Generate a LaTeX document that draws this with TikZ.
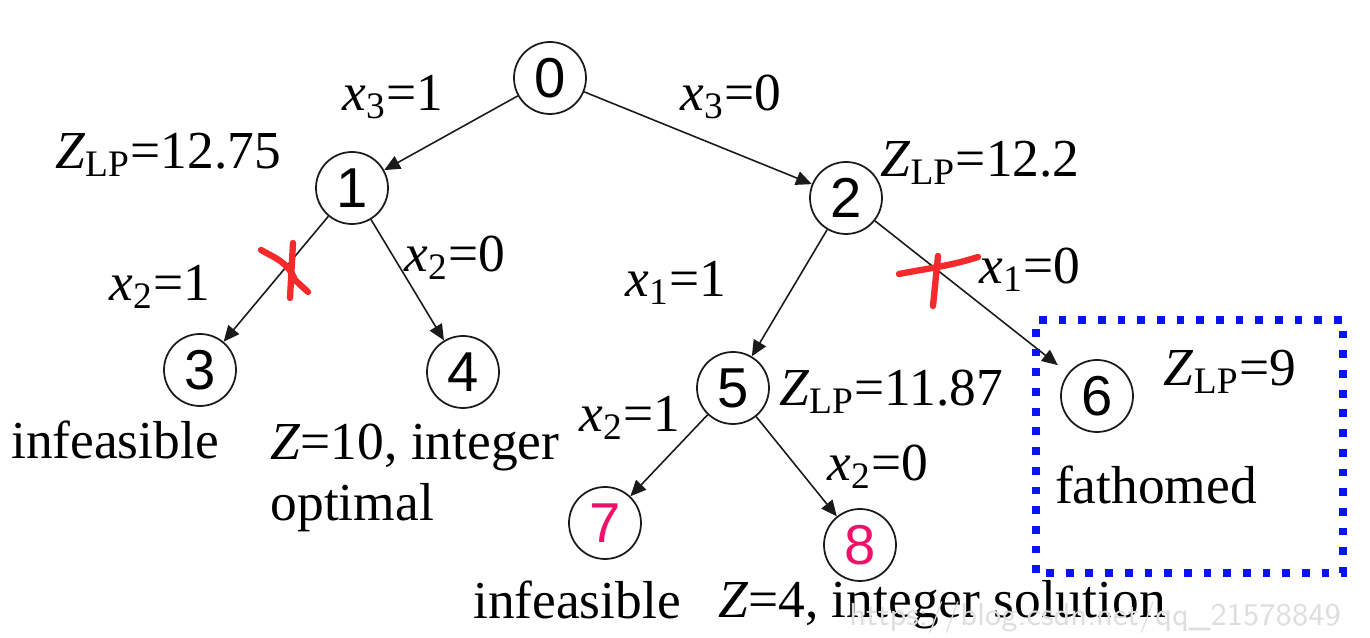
\documentclass[tikz,border=0pt]{standalone}
\usepackage{fontspec}
\setmainfont{Liberation Serif}
\newfontfamily\digitfont{Liberation Sans}
\usetikzlibrary{arrows.meta}
\definecolor{Ink}{HTML}{1A1A1A}
\definecolor{Pink}{HTML}{F0106A}
\definecolor{Cross}{HTML}{F52A2A}
\definecolor{Box}{HTML}{0A14F0}
\definecolor{Mark}{HTML}{DEDEDE}
\newcommand{\xsub}[2]{\textit{x}\textsubscript{#1}=#2}
\newcommand{\zlp}[1]{\textit{Z}\textsubscript{LP}=#1}

\begin{document}
\begin{tikzpicture}[
    bb/.style={circle,draw=Ink,line width=0.5pt,minimum size=0.72cm,inner sep=0pt,
      font=\digitfont\fontsize{16}{19}\selectfont},
    lbl/.style={font=\fontsize{15.2}{18}\selectfont,inner sep=0pt},
    edge/.style={-{Triangle[length=4.5pt,width=4pt]},Ink,line width=0.45pt},
    cut/.style={Cross,line width=1.8pt,line cap=round,line join=round}
  ]
      \useasboundingbox (0,0) rectangle (13.70,6.38);
      % branch and bound tree
      \node[bb] (n0) at (5.50,5.60) {0};
      \node[bb] (n1) at (3.52,4.50) {1};
      \node[bb] (n2) at (8.46,4.40) {2};
      \node[bb] (n3) at (2.00,2.68) {3};
      \node[bb] (n4) at (4.63,2.66) {4};
      \node[bb] (n5) at (7.33,2.50) {5};
      \node[bb] (n6) at (10.97,2.42) {6};
      \node[bb,text=Pink] (n7) at (6.05,1.15) {7};
      \node[bb,text=Pink] (n8) at (8.60,0.93) {8};
      \draw[edge] (n0) -- (n1);
      \draw[edge] (n0) -- (n2);
      \draw[edge] (n1) -- (n3);
      \draw[edge] (n1) -- (n4);
      \draw[edge] (n2) -- (n5);
      \draw[edge,shorten >=1.3mm] (n2) -- (n6);
      \draw[edge] (n5) -- (n7);
      \draw[edge] (n5) -- (n8);
      % branch labels
      \node[lbl] (b31) at (3.93,5.41) {\xsub{3}{1}};
      \node[lbl] (b30) at (7.31,5.41) {\xsub{3}{0}};
      \node[lbl] (b21) at (1.60,3.51) {\xsub{2}{1}};
      \node[lbl] (b20) at (4.55,3.80) {\xsub{2}{0}};
      \node[lbl] (b11) at (6.76,3.55) {\xsub{1}{1}};
      \node[lbl] (b10) at (10.30,3.68) {\xsub{1}{0}};
      \node[lbl] (c21) at (6.30,2.20) {\xsub{2}{1}};
      \node[lbl] (c20) at (8.78,1.71) {\xsub{2}{0}};
      % bounds and results
      \node[lbl] (z1) at (1.68,4.83) {\zlp{12.75}};
      \node[lbl] (z2) at (9.80,4.75) {\zlp{12.2}};
      \node[lbl] (z5) at (8.91,2.46) {\zlp{11.87}};
      \node[lbl] (z6) at (12.30,2.66) {\zlp{9}};
      \node[lbl] (r3) at (1.15,1.98) {infeasible};
      \node[lbl,anchor=north west,align=left,font=\fontsize{15.2}{17.4}\selectfont]
        (r4) at (2.70,2.15) {\textit{Z}=10, integer\\optimal};
      \node[lbl] (r7) at (5.77,0.38) {infeasible};
      \node[lbl] (r8) at (9.42,0.33) {\textit{Z}=4, integer solution};
      \node[lbl] (r6) at (11.56,1.53) {fathomed};
      \draw[Box,line width=2.2pt,dash pattern=on 2.2pt off 3.4pt] (10.36,0.65) rectangle (13.43,3.18);
      % pruned branches
      \draw[cut] (2.61,3.88) .. controls (2.75,3.80) and (2.88,3.76) .. (2.95,3.58) -- (3.08,3.46);
      \draw[cut] (2.93,3.95) -- (2.90,3.40);
      \draw[cut] (8.99,3.64) .. controls (9.30,3.70) and (9.50,3.72) .. (9.78,3.81);
      \draw[cut] (9.38,3.82) -- (9.33,3.32);
      \node[text=Mark,font=\sffamily\fontsize{9}{10}\selectfont,anchor=south east,inner sep=1pt] (wm) at (13.45,0.0)
        {https://blog.csdn.net/qq\_21578849};
    \end{tikzpicture}
\end{document}
